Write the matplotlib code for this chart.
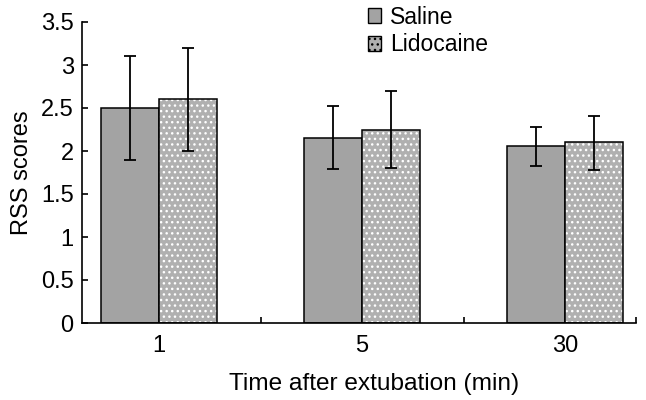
import matplotlib
matplotlib.use("Agg")
import matplotlib.pyplot as plt
from matplotlib.patches import Patch
import numpy as np

# data
times = ["1", "5", "30"]
saline = [2.50, 2.15, 2.06]
saline_lo = [1.89, 1.79, 1.83]
saline_hi = [3.11, 2.52, 2.28]
lidocaine = [2.61, 2.25, 2.10]
lido_lo = [2.00, 1.80, 1.78]
lido_hi = [3.20, 2.70, 2.41]

plt.rcParams['font.family'] = ['Liberation Sans', 'DejaVu Sans']
plt.rcParams['font.size'] = 17

fig = plt.figure(figsize=(6.46, 4.0), dpi=100)
ax = fig.add_axes([0.127, 0.1925, 0.858, 0.7525])

x = np.arange(len(times))
w = 0.286

# saline bars
sal_err = [np.array(saline) - np.array(saline_lo),
           np.array(saline_hi) - np.array(saline)]
ax.bar(x - w / 2, saline, w, color='#a3a3a3', edgecolor='black',
       linewidth=1.1, label='Saline', zorder=2)

# lidocaine: grey fill with white dots, then black outline on top
lid_err = [np.array(lidocaine) - np.array(lido_lo),
           np.array(lido_hi) - np.array(lidocaine)]
plt.rcParams['hatch.color'] = 'white'
plt.rcParams['hatch.linewidth'] = 1.0
ax.bar(x + w / 2, lidocaine, w, color='#b0b0b0', edgecolor='white',
       hatch='...', linewidth=0, zorder=2)
ax.bar(x + w / 2, lidocaine, w, color='none', edgecolor='black',
       linewidth=1.1, zorder=3)

ax.errorbar(x - w / 2, saline, yerr=sal_err, fmt='none', ecolor='black',
            elinewidth=1.3, capsize=4, capthick=1.3, zorder=4)
ax.errorbar(x + w / 2, lidocaine, yerr=lid_err, fmt='none', ecolor='black',
            elinewidth=1.3, capsize=4, capthick=1.3, zorder=4)

# legend handles
h1 = Patch(facecolor='#a3a3a3', edgecolor='black', linewidth=1.0)
h2 = Patch(facecolor='#b0b0b0', edgecolor='black', linewidth=1.0,
           hatch='...')
fig.legend([h1, h2], ['Saline', 'Lidocaine'], loc='upper left',
           bbox_to_anchor=(0.537, 1.037), frameon=False, fontsize=16.5,
           handlelength=0.6, handleheight=0.6, handletextpad=0.4,
           labelspacing=0.2)

ax.set_xlim(-0.379, 2.35)
ax.set_ylim(0, 3.5)
ax.set_yticks(np.arange(0, 3.51, 0.5))
ax.set_yticklabels(['0', '0.5', '1', '1.5', '2', '2.5', '3', '3.5'])
ax.set_xticks(x)
ax.set_xticklabels(times)
ax.set_xticks([0.5, 1.5, 2.35], minor=True)
ax.tick_params(axis='x', which='major', length=0, pad=9)
ax.tick_params(axis='x', which='minor', direction='in', length=4, width=1.2)
ax.tick_params(axis='y', direction='in', length=4, width=1.2, pad=6)

for s in ['top', 'right']:
    ax.spines[s].set_visible(False)
for s in ['left', 'bottom']:
    ax.spines[s].set_linewidth(1.2)

ax.set_ylabel('RSS scores', labelpad=6)
ax.set_xlabel('Time after extubation (min)', fontsize=17.6)
ax.xaxis.set_label_coords(0.527, -0.165)

fig.savefig('out.png', dpi=100)
